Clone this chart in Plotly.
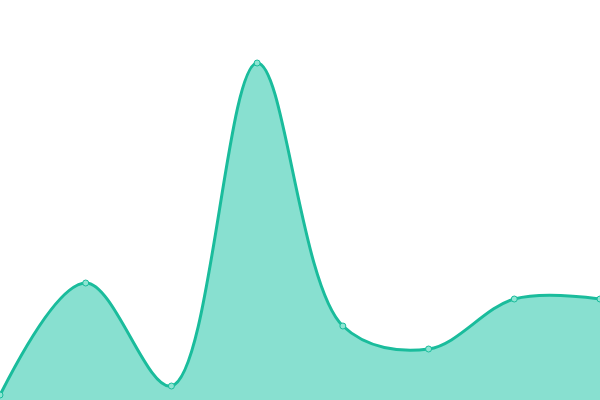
import plotly.graph_objects as go

x_vals = [0, 1, 2, 3, 4, 5, 6, 7]
y_vals = [5, 117, 14, 337, 74, 51, 101, 101]

fig = go.Figure(go.Scatter(
    x=x_vals, y=y_vals, mode="lines+markers",
    line=dict(color="#1abc9c", width=3, shape="spline", smoothing=1),
    fill="tozeroy", fillcolor="rgb(136,224,208)",
    marker=dict(size=6, color="#8ee5d3", line=dict(color="#1abc9c", width=1)),
    cliponaxis=False,
))
fig.update_layout(
    width=600, height=400, margin=dict(l=0, r=0, t=0, b=0),
    paper_bgcolor="white", plot_bgcolor="white", showlegend=False,
    xaxis=dict(range=[0, 7], visible=False),
    yaxis=dict(range=[0, 400], visible=False),
)
fig.write_html("out.html", config={"displayModeBar": False},
               post_script="document.body.style.margin='0';document.body.style.overflow='hidden';")
